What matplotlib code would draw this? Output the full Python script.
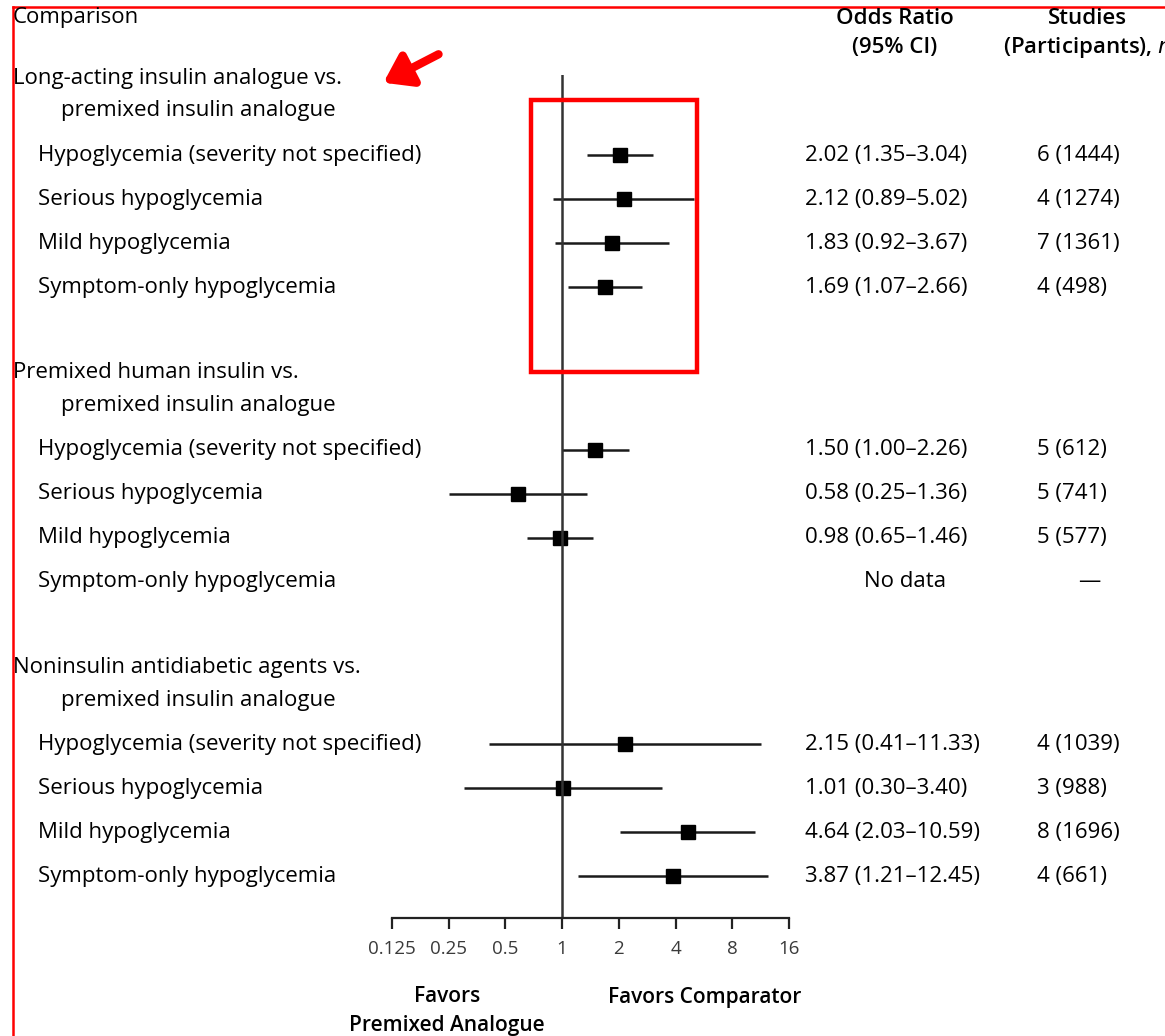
import numpy as np
import matplotlib.pyplot as plt
import matplotlib.transforms as mtransforms
from matplotlib.patches import Rectangle, FancyArrowPatch
from matplotlib.lines import Line2D

plt.rcParams['font.family'] = ['Open Sans', 'DejaVu Sans']

# Datos
group_titles = ["Long-acting insulin analogue vs.",
                "Premixed human insulin vs.",
                "Noninsulin antidiabetic agents vs."]
group_subtitle = "premixed insulin analogue"
outcomes = ["Hypoglycemia (severity not specified)",
            "Serious hypoglycemia",
            "Mild hypoglycemia",
            "Symptom-only hypoglycemia"]

or_g1 = [2.02, 2.12, 1.83, 1.69]
lo_g1 = [1.35, 0.89, 0.92, 1.07]
hi_g1 = [3.04, 5.02, 3.67, 2.66]
n_g1 = ["6 (1444)", "4 (1274)", "7 (1361)", "4 (498)"]

or_g2 = [1.50, 0.58, 0.98, np.nan]
lo_g2 = [1.00, 0.25, 0.65, np.nan]
hi_g2 = [2.26, 1.36, 1.46, np.nan]
n_g2 = ["5 (612)", "5 (741)", "5 (577)", "\u2014"]

or_g3 = [2.15, 1.01, 4.64, 3.87]
lo_g3 = [0.41, 0.30, 2.03, 1.21]
hi_g3 = [11.33, 3.40, 10.59, 12.45]
n_g3 = ["4 (1039)", "3 (988)", "8 (1696)", "4 (661)"]

x_ticks = [0.125, 0.25, 0.5, 1, 2, 4, 8, 16]
x_tick_labels = ["0.125", "0.25", "0.5", "1", "2", "4", "8", "16"]

or_all = [or_g1, or_g2, or_g3]
lo_all = [lo_g1, lo_g2, lo_g3]
hi_all = [hi_g1, hi_g2, hi_g3]
n_all = [n_g1, n_g2, n_g3]

W, H = 1165, 1036
fig = plt.figure(figsize=(W / 100, H / 100), dpi=100)

# Eje del forest plot (escala log2)
ax_left, ax_right, ax_top, ax_bot = 392, 789, 75, 918
ax = fig.add_axes([ax_left / W, 1 - ax_bot / H, (ax_right - ax_left) / W, (ax_bot - ax_top) / H])
ax.set_xscale('log', base=2)
ax.set_xlim(0.125, 16)
row_px = 44.1
ax.set_ylim((ax_bot - 155) / row_px, (ax_top - 155) / row_px)

group_step = 6.68
fs = 16
fw = 'medium'
txt = mtransforms.blended_transform_factory(fig.transFigure, ax.transData)

def fx(px):
    return px / W

for g in range(3):
    y0 = g * group_step
    ax.text(fx(13), y0 - 1.746, group_titles[g], transform=txt, fontsize=fs, weight=fw, va='center', ha='left')
    ax.text(fx(61), y0 - 1.0, group_subtitle, transform=txt, fontsize=fs, weight=fw, va='center', ha='left')
    for i in range(4):
        y = y0 + i
        ax.text(fx(38), y, outcomes[i], transform=txt, fontsize=fs, weight=fw, va='center', ha='left')
        est = or_all[g][i]
        if np.isnan(est):
            ax.text(fx(905), y, "No data", transform=txt, fontsize=fs, weight=fw, va='center', ha='center')
            ax.text(fx(1089), y, n_all[g][i], transform=txt, fontsize=fs, weight=fw, va='center', ha='center')
            continue
        ax.plot([lo_all[g][i], hi_all[g][i]], [y, y], color='#1a1a1a', lw=1.8, solid_capstyle='butt')
        ax.plot(est, y, 's', color='black', markersize=9.5)
        ci = f"{est:.2f} ({lo_all[g][i]:.2f}\u2013{hi_all[g][i]:.2f})"
        ax.text(fx(805), y, ci, transform=txt, fontsize=fs, weight=fw, va='center', ha='left')
        ax.text(fx(1037), y, n_all[g][i], transform=txt, fontsize=fs, weight=fw, va='center', ha='left')

ax.axvline(1, color='#333333', lw=1.8)

for s in ['top', 'right', 'left']:
    ax.spines[s].set_visible(False)
ax.spines['bottom'].set_linewidth(1.6)
ax.spines['bottom'].set_color('#222222')
ax.set_yticks([])
ax.set_xticks(x_ticks)
ax.set_xticklabels(x_tick_labels)
ax.minorticks_off()
ax.tick_params(axis='x', direction='out', length=8, width=1.6, color='#222222',
               labelsize=13.5, pad=8, labelcolor='#3a3a3a')

# Encabezados
fig.text(fx(13), 1 - 18 / H, "Comparison", fontsize=fs, weight=fw, va='center', ha='left')
fig.text(fx(895), 1 - 18 / H, "Odds Ratio", fontsize=fs, va='center', ha='center', weight='semibold')
fig.text(fx(895), 1 - 47 / H, "(95% CI)", fontsize=fs, va='center', ha='center', weight='semibold')
fig.text(fx(1087), 1 - 18 / H, "Studies", fontsize=fs, va='center', ha='center', weight='semibold')
fig.text(fx(1003), 1 - 47 / H, "(Participants), $\\mathit{n}$", fontsize=fs, va='center', ha='left',
         weight='semibold')

# Etiquetas inferiores
fig.text(fx(447), 1 - 997 / H, "Favors", fontsize=15, va='center', ha='center', weight='semibold')
fig.text(fx(447), 1 - 1025 / H, "Premixed Analogue", fontsize=15, va='center', ha='center', weight='semibold')
fig.text(fx(705), 1 - 997 / H, "Favors Comparator", fontsize=15, va='center', ha='center', weight='semibold')

# Anotaciones en rojo
fig.add_artist(Line2D([fx(13), 1.0], [1 - 7 / H, 1 - 7 / H], color='red', lw=1.8))
fig.add_artist(Line2D([fx(13), fx(13)], [1 - 7 / H, 0.0], color='red', lw=1.8))
fig.add_artist(Rectangle((fx(531), 1 - 372 / H), fx(697 - 531), (372 - 100) / H,
                         transform=fig.transFigure, fill=False, edgecolor='red', lw=3.2))
fig.add_artist(FancyArrowPatch((fx(441), 1 - 53 / H), (fx(381), 1 - 84 / H),
                               transform=fig.transFigure, arrowstyle='-|>,head_length=16,head_width=11',
                               color='red', lw=6, mutation_scale=1, capstyle='round'))

fig.savefig("out.png", dpi=100)
